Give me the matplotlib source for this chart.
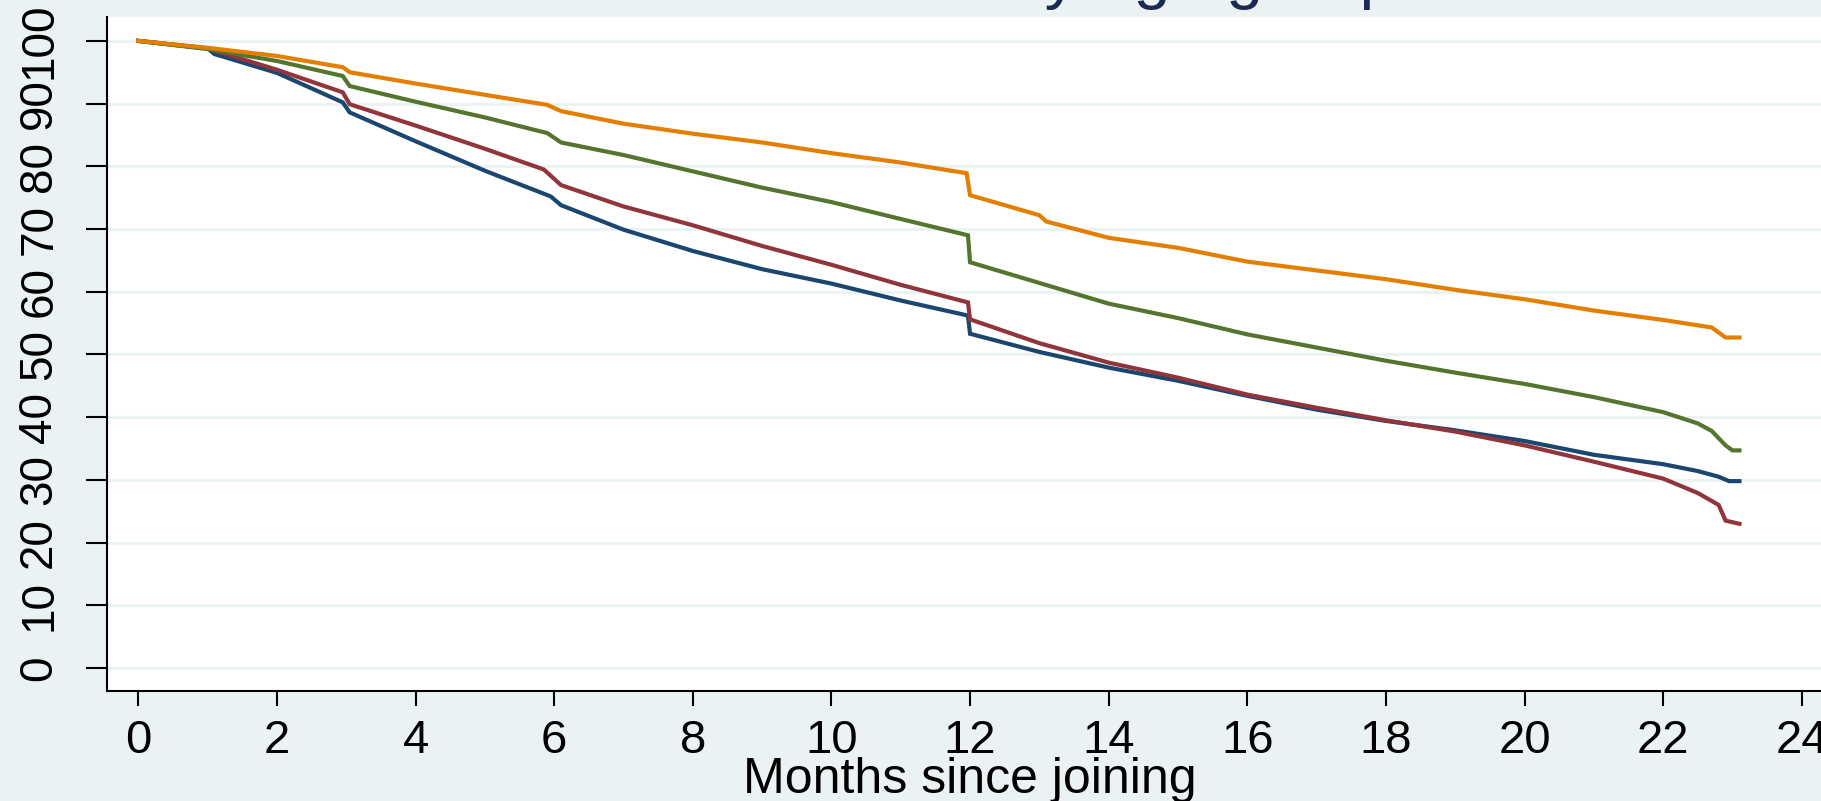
import matplotlib.pyplot as plt

# Survival (%) by months since joining, one curve per age group.
# Repeated month values mark the vertical drops of the step curves.
months_navy = [0, 1, 1.1, 2, 2.95, 3.05, 4, 5, 5.95, 6.1, 7, 8, 9, 10, 11, 11.97, 12,
               13, 14, 15, 16, 17, 18, 19, 20, 21, 22, 22.5, 22.8, 22.95, 23.1]
surv_navy = [100, 98.8, 97.9, 94.9, 90.2, 88.6, 84.0, 79.3, 75.2, 73.8, 69.9, 66.5, 63.6,
             61.3, 58.6, 56.2, 53.3, 50.4, 47.9, 45.8, 43.4, 41.2, 39.4, 37.9, 36.2, 34.0,
             32.5, 31.4, 30.5, 29.8, 29.8]

months_maroon = [0, 1, 2, 2.95, 3.05, 4, 5, 5.85, 6.1, 7, 8, 9, 10, 11, 11.97, 12,
                 13, 14, 15, 16, 17, 18, 19, 20, 21, 22, 22.5, 22.8, 22.9, 23.1]
surv_maroon = [100, 98.8, 95.4, 91.8, 89.9, 86.5, 82.8, 79.5, 77.0, 73.6, 70.6, 67.3, 64.3,
               61.1, 58.3, 55.6, 51.8, 48.7, 46.3, 43.6, 41.5, 39.5, 37.7, 35.5, 32.9, 30.2,
               27.9, 26.0, 23.5, 23.0]

months_green = [0, 1, 2, 2.95, 3.05, 4, 5, 5.9, 6.1, 7, 8, 9, 10, 11, 11.97, 12,
                13, 14, 15, 16, 17, 18, 19, 20, 21, 22, 22.5, 22.7, 22.9, 23.0, 23.1]
surv_green = [100, 98.7, 96.8, 94.4, 92.8, 90.3, 87.8, 85.3, 83.8, 81.8, 79.2, 76.6, 74.3,
              71.6, 69.0, 64.7, 61.4, 58.1, 55.8, 53.2, 51.1, 49.0, 47.1, 45.3, 43.2, 40.8,
              39.0, 37.8, 35.5, 34.7, 34.7]

months_orange = [0, 1, 2, 2.95, 3.05, 4, 5, 5.9, 6.1, 7, 8, 9, 10, 11, 11.95, 12,
                 13, 13.1, 14, 15, 16, 17, 18, 19, 20, 21, 22, 22.7, 22.9, 23.1]
surv_orange = [100, 98.9, 97.6, 95.8, 95.0, 93.2, 91.4, 89.8, 88.8, 86.8, 85.2, 83.8, 82.1,
               80.6, 78.9, 75.4, 72.2, 71.2, 68.6, 67.0, 64.8, 63.4, 62.0, 60.3, 58.8, 57.0,
               55.5, 54.3, 52.7, 52.7]

x_ticks = list(range(0, 25, 2))
y_ticks = list(range(0, 101, 10))

bg = '#eaf2f3'
font = 'Liberation Sans'

fig = plt.figure(figsize=(18.21, 8.01), dpi=100, facecolor=bg)
ax = fig.add_axes([0.0588, 0.1373, 0.9478, 0.8414])
ax.set_facecolor('white')

ax.yaxis.grid(True, color=bg, linewidth=2.2)
ax.set_axisbelow(True)

curves = [
    (months_navy, surv_navy, '#1a476f'),
    (months_maroon, surv_maroon, '#90353b'),
    (months_green, surv_green, '#55752f'),
    (months_orange, surv_orange, '#e37e00'),
]
for mx, sy, col in curves:
    ax.plot(mx, sy, color=col, linewidth=3.0, solid_joinstyle='miter')

ax.set_xlim(-0.45, 24.45)
ax.set_ylim(-3.67, 103.8)

for side in ['top', 'right']:
    ax.spines[side].set_visible(False)
for side in ['left', 'bottom']:
    ax.spines[side].set_linewidth(1.5)
    ax.spines[side].set_color('black')

ax.set_xticks(x_ticks)
ax.set_xticklabels([str(v) for v in x_ticks], fontsize=34, family=font)
ax.tick_params(axis='x', length=11, width=1.5, pad=9)

ax.set_yticks(y_ticks)
ax.set_yticklabels([str(v) for v in y_ticks], fontsize=33, family=font,
                   rotation=90, va='center')
ax.tick_params(axis='y', length=15, width=1.5, pad=18)

ax.set_xlabel('Months since joining', fontsize=36, family=font, va='baseline')
ax.xaxis.set_label_coords(0.5, -0.152)

fig.text(0.767, 1.005, 'Survival estimates by age group', ha='right', va='baseline',
         fontsize=48, family=font, color='#1a2a55')

fig.savefig('out.png', dpi=100, facecolor=bg)
